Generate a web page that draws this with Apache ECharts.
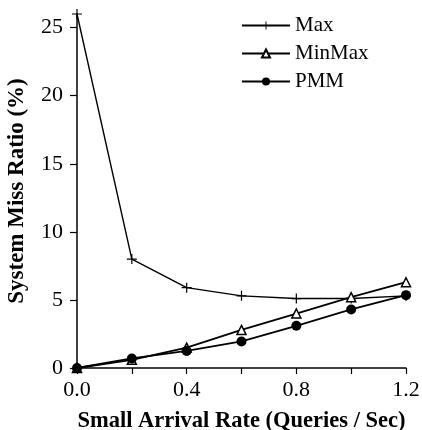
<!DOCTYPE html>
<html><head><meta charset="utf-8">
<script src="https://cdn.jsdelivr.net/npm/echarts@6/dist/echarts.min.js"></script>
<style>html,body{margin:0;padding:0;background:#fff;}#c{width:422px;height:430px;}</style>
</head><body><div id="c"></div>
<script>
var xValues = [0.0, 0.2, 0.4, 0.6, 0.8, 1.0, 1.2];
var maxSeries = [26.0, 8.0, 5.9, 5.3, 5.1, 5.1, 5.3];
var minMaxSeries = [0.0, 0.6, 1.5, 2.8, 4.0, 5.2, 6.3];
var pmmSeries = [0.0, 0.7, 1.25, 1.95, 3.1, 4.3, 5.35];
var xTickValues = [0, 0.2, 0.4, 0.6, 0.8, 1.0, 1.2];
var xLabelValues = [0, 0.4, 0.8, 1.2];
var yTickValues = [0, 5, 10, 15, 20, 25];

function pairs(ys){ return xValues.map(function(x,i){ return [x, ys[i]]; }); }
var serif = 'Liberation Serif';
var plus = 'path://M-0.6,-5h1.2v10h-1.2z M-5,-0.6h10v1.2h-10z';

var chart = echarts.init(document.getElementById('c'));
chart.setOption({
  backgroundColor: '#fff',
  animation: false,
  grid: {left: 77, right: 16, top: 14, bottom: 62, containLabel: false, outerBoundsMode: 'none'},
  legend: {
    orient: 'vertical', left: 236, top: 10, itemWidth: 48, itemHeight: 10, itemGap: 7,
    textStyle: {fontFamily: serif, fontSize: 21, color: '#000'},
    data: ['Max', 'MinMax', 'PMM']
  },
  xAxis: {
    type: 'value', min: 0, max: 1.2, interval: 0.2,
    name: 'Small Arrival Rate (Queries / Sec)', nameLocation: 'middle', nameGap: 42,
    nameTextStyle: {fontFamily: serif, fontSize: 22.5, fontWeight: 'bold', color: '#000'},
    axisLine: {lineStyle: {color: '#000', width: 1.5}},
    axisTick: {show: true, length: 6, lineStyle: {color: '#000', width: 1.2}, customValues: xTickValues},
    axisLabel: {fontFamily: serif, fontSize: 22, color: '#000', margin: 11, customValues: xLabelValues,
      formatter: function(v){ return v.toFixed(1); }},
    splitLine: {show: false}
  },
  yAxis: {
    type: 'value', min: 0, max: 26, interval: 5,
    name: 'System Miss Ratio (%)', nameLocation: 'middle', nameGap: 48,
    nameTextStyle: {fontFamily: serif, fontSize: 23, fontWeight: 'bold', color: '#000'},
    axisLine: {show: true, lineStyle: {color: '#000', width: 1.5}},
    axisTick: {show: true, length: 7, lineStyle: {color: '#000', width: 1.2}, customValues: yTickValues},
    axisLabel: {fontFamily: serif, fontSize: 22, color: '#000', margin: 14, customValues: yTickValues},
    splitLine: {show: false}
  },
  series: [
    {name: 'Max', type: 'line', data: pairs(maxSeries), symbol: plus, symbolSize: 10,
      lineStyle: {color: '#000', width: 1.4}, itemStyle: {color: '#000'}},
    {name: 'MinMax', type: 'line', data: pairs(minMaxSeries), symbol: 'triangle', symbolSize: 9,
      lineStyle: {color: '#000', width: 1.8}, itemStyle: {color: '#fff', borderColor: '#000', borderWidth: 1.5}},
    {name: 'PMM', type: 'line', data: pairs(pmmSeries), symbol: 'circle', symbolSize: 10,
      lineStyle: {color: '#000', width: 1.8}, itemStyle: {color: '#000'}}
  ]
});
</script></body></html>
